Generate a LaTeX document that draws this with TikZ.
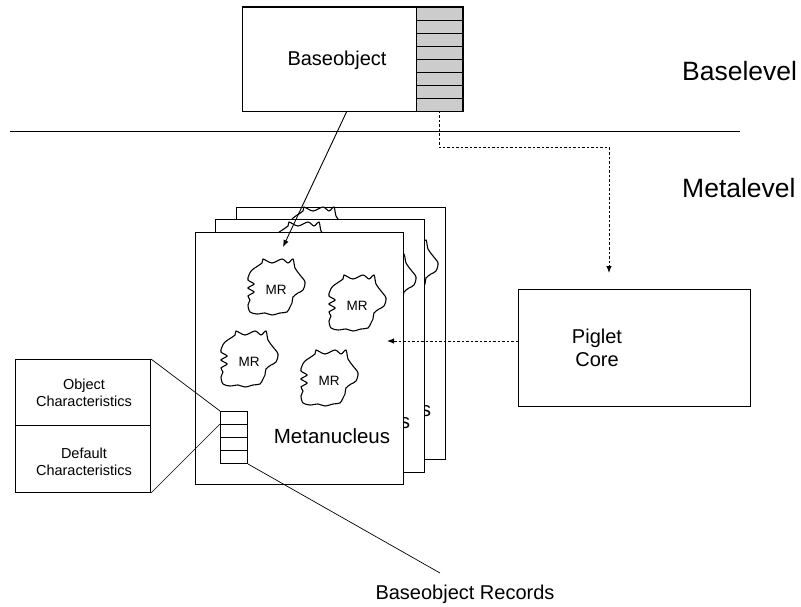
\documentclass[tikz,border=0pt]{standalone}
\usepackage{fontspec}
\setmainfont{Liberation Sans}
\usetikzlibrary{arrows.meta,calc}
\tikzset{
  box/.style={draw,line width=1pt,fill=white,inner sep=0pt},
  fineline/.style={line width=0.7pt},
  dotline/.style={line width=1pt,dash pattern=on 2.5pt off 2pt},
  tipA/.style={-{Latex[length=7pt,width=5.5pt]}},
  lvl/.style={anchor=west,inner sep=0pt,font=\fontsize{26.5}{30}\selectfont},
  big/.style={inner sep=0pt,align=center,font=\fontsize{20}{23}\selectfont},
  small/.style={inner sep=0pt,align=center,font=\fontsize{14.5}{17}\selectfont},
  mrtext/.style={inner sep=0pt,font=\fontsize{13.5}{16}\selectfont},
  mrcloud/.pic={\draw[line width=1.1pt,fill=white] plot[smooth cycle,tension=0.5] coordinates{
    (-25,-17) (-15,-24) (-14,-28) (-5,-24) (5,-28) (11,-24) (16,-28) (18,-19)
    (23,-12) (28,-5) (26,3) (21,6) (16,10) (15,16) (13,20) (10,25) (3,26)
    (-5,28) (-12,26) (-20,27) (-27,25) (-29,18) (-27,13) (-29,9) (-23,5)
    (-29,1) (-23,-3) (-29,-7) (-28,-12)};},
}
\begin{document}
\begin{tikzpicture}[x=1pt,y=-1pt]
\useasboundingbox (0,0) rectangle (801,607);

% Baseobject
\node[box,anchor=north west,minimum width=220pt,minimum height=104pt] (base) at (242,7) {};
\foreach \i in {0,...,7}
  \draw[line width=0.9pt,fill=gray!40] (416,{7+13*\i}) rectangle (462,{20+13*\i});
\draw[line width=1pt] (base.north west) rectangle (base.south east);
\node[big] (basetext) at (337,60) {Baseobject};

% level separator and labels
\draw[line width=1pt] (10,132) -- (740,132);
\node[lvl] (baselevel) at (682,71) {Baselevel};
\node[lvl] (metalevel) at (682,188) {Metalevel};

% back page
\node[box,anchor=north west,minimum width=209pt,minimum height=252pt] (pageC) at (236,207) {};
\pic at (318,235) {mrcloud};
\pic at (410,268) {mrcloud};
\node[big,font=\fontsize{20.5}{24}\selectfont] (sC) at (426,411) {s};

% middle page
\node[box,anchor=north west,minimum width=209pt,minimum height=253pt] (pageB) at (215,219) {};
\pic at (303,250) {mrcloud};
\pic at (388,282) {mrcloud};
\node[big,font=\fontsize{20.5}{24}\selectfont] (sB) at (405,423) {s};

% front page
\node[box,anchor=north west,minimum width=208pt,minimum height=252pt] (pageA) at (195,232) {};
\pic at (277,287) {mrcloud};
\pic at (358,303) {mrcloud};
\pic at (250,359) {mrcloud};
\pic at (330,378) {mrcloud};
\node[mrtext] (mr1) at (276,290) {MR};
\node[mrtext] (mr2) at (357,306) {MR};
\node[mrtext] (mr3) at (249,362) {MR};
\node[mrtext] (mr4) at (329,381) {MR};
\node[big,font=\fontsize{20.5}{24}\selectfont] (metaA) at (332,436) {Metanucleus};

% records stack
\node[box,anchor=north west,minimum width=27pt,minimum height=52pt] (rec) at (220,411) {};
\foreach \yy in {424,437,450} \draw[fineline] (220,\yy) -- (247,\yy);

% characteristics box
\node[box,anchor=north west,minimum width=135pt,minimum height=133pt] (chars) at (15,359) {};
\draw[fineline] (15,425) -- (150,425);
\node[small] (objchar) at (84,393) {Object\\Characteristics};
\node[small] (defchar) at (84,462) {Default\\Characteristics};
\coordinate (recrow) at (220,424);
\draw[fineline] (chars.north east) -- (rec.north west);
\draw[fineline] (chars.south east) -- (recrow);
\coordinate (recend) at (440,573);
\draw[fineline] (rec.south east) -- (recend);
\node[big] (reclabel) at (465,594) {Baseobject Records};

% Piglet Core
\node[box,anchor=north west,minimum width=232pt,minimum height=117pt] (pig) at (518,289) {};
\node[big] (pigtext) at (597,348) {Piglet\\Core};

% connectors
\coordinate (arrA) at (283,247);
\draw[line width=0.9pt,tipA] ($(base.south)+(-6,0)$) -- (arrA);
\coordinate (gcol) at (439,111);
\coordinate (turn) at (609,148);
\coordinate (pigtip) at (609,273);
\draw[dotline,tipA] (gcol) |- (turn) -- (pigtip);
\coordinate (pl) at (518,341);
\coordinate (pt) at (387,341);
\draw[dotline,tipA] (pl) -- (pt);
\end{tikzpicture}
\end{document}
